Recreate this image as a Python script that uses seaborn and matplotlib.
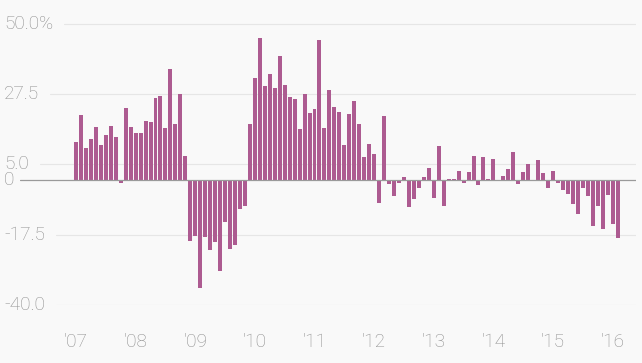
import numpy as np
import pandas as pd
import matplotlib
matplotlib.use("Agg")
import matplotlib.pyplot as plt
import matplotlib.transforms as mtransforms
import seaborn as sns

# monthly change, Jan 2007 .. Feb 2016
months = pd.date_range("2007-01-01", periods=110, freq="MS").strftime("%Y-%m").tolist()
values = [
    12.3, 20.8, 10.3, 13.2, 17.1, 11.1, 14.5, 17.3, 13.7, -1.0, 23.0, 17.1,   # 2007
    14.9, 15.0, 18.9, 18.6, 26.4, 26.9, 16.5, 35.6, 18.1, 27.7, 7.8, -19.4,   # 2008
    -17.8, -34.5, -18.4, -22.5, -19.8, -29.3, -13.6, -22.1, -20.8, -9.3, -8.3, 17.8,  # 2009
    32.8, 45.5, 30.1, 34.0, 29.6, 39.7, 30.6, 26.7, 26.1, 16.2, 27.7, 21.5,   # 2010
    22.6, 44.8, 16.5, 28.8, 23.5, 21.8, 11.2, 21.2, 25.4, 17.9, 7.5, 11.4,    # 2011
    8.2, -7.3, 20.5, -1.3, -5.0, -0.9, 0.9, -8.7, -6.0, -2.5, 1.0, 3.8,       # 2012
    -5.9, 10.9, -8.5, 0.2, 0.2, 3.0, -0.9, 2.6, 7.7, -1.5, 7.3, 0.2,          # 2013
    6.8, 0.1, 1.3, 3.6, 8.9, -1.4, 2.5, 5.1, -0.3, 6.3, 2.2, -2.7,            # 2014
    3.0, -0.9, -3.2, -4.4, -7.8, -10.9, -2.5, -5.0, -14.9, -8.2, -15.8, -4.7, # 2015
    -14.0, -18.5,                                                              # 2016
]
year_ticks = [0, 12, 24, 36, 48, 60, 72, 84, 96, 108]
year_labels = ["'07", "'08", "'09", "'10", "'11", "'12", "'13", "'14", "'15", "'16"]
y_ticks = [50.0, 27.5, 5.0, 0, -17.5, -40.0]
y_labels = ["50.0%", "27.5", "5.0", "0", "-17.5", "-40.0"]

bg = "#f9f9f9"
bar_color = "#ad5b91"
grid_color = "#e6e6e6"
text_color = "#8e8e8e"

sns.set_style("white")
plt.rcParams["font.family"] = ["Roboto", "DejaVu Sans"]

W, H = 642, 363
fig = plt.figure(figsize=(W / 100, H / 100), dpi=100, facecolor=bg)
ax = fig.add_axes([20 / W, 1 - 305.4 / H, 616 / W, 286.1 / H])
ax.set_facecolor(bg)

df = pd.DataFrame({"month": months, "value": values})
sns.barplot(data=df, x="month", y="value", color=bar_color, saturation=1,
            width=0.8, linewidth=0, ax=ax, zorder=2)

ax.set_xlim(-11.27, 112.7)
ax.set_ylim(-40.2, 51.5)
ax.set_xlabel("")
ax.set_ylabel("")
for s in ax.spines.values():
    s.set_visible(False)

ax.set_yticks([])
ax.set_xticks(year_ticks)
ax.set_xticklabels(year_labels)
ax.tick_params(axis="x", length=10.8, width=0.8, color="#e0e0e0",
               labelcolor=text_color, labelsize=13.7, pad=9)
for lab in ax.get_xticklabels():
    lab.set_fontweight("light")

# y labels sit at the left edge, gridlines start after them
trans = mtransforms.blended_transform_factory(fig.transFigure, ax.transData)
texts = []
for v, lab in zip(y_ticks, y_labels):
    t = ax.text(4 / W, v, lab, transform=trans, ha="left", va="center",
                fontsize=13.7, fontweight="light", color=text_color, zorder=5,
                bbox=dict(boxstyle="square,pad=0.05", facecolor=bg, edgecolor="none"))
    texts.append(t)

fig.canvas.draw()
renderer = fig.canvas.get_renderer()
for v, t in zip(y_ticks, texts):
    if v == 0:
        ax.axhline(0, color="#9a9a9a", lw=0.9, zorder=3)
        continue
    bb = t.get_window_extent(renderer)
    x0 = ax.transAxes.inverted().transform((bb.x1 + 11, 0))[0]
    ax.axhline(v, xmin=max(x0, 0), xmax=1, color=grid_color, lw=0.8, zorder=0)

fig.savefig("out.png", dpi=100, facecolor=bg)
